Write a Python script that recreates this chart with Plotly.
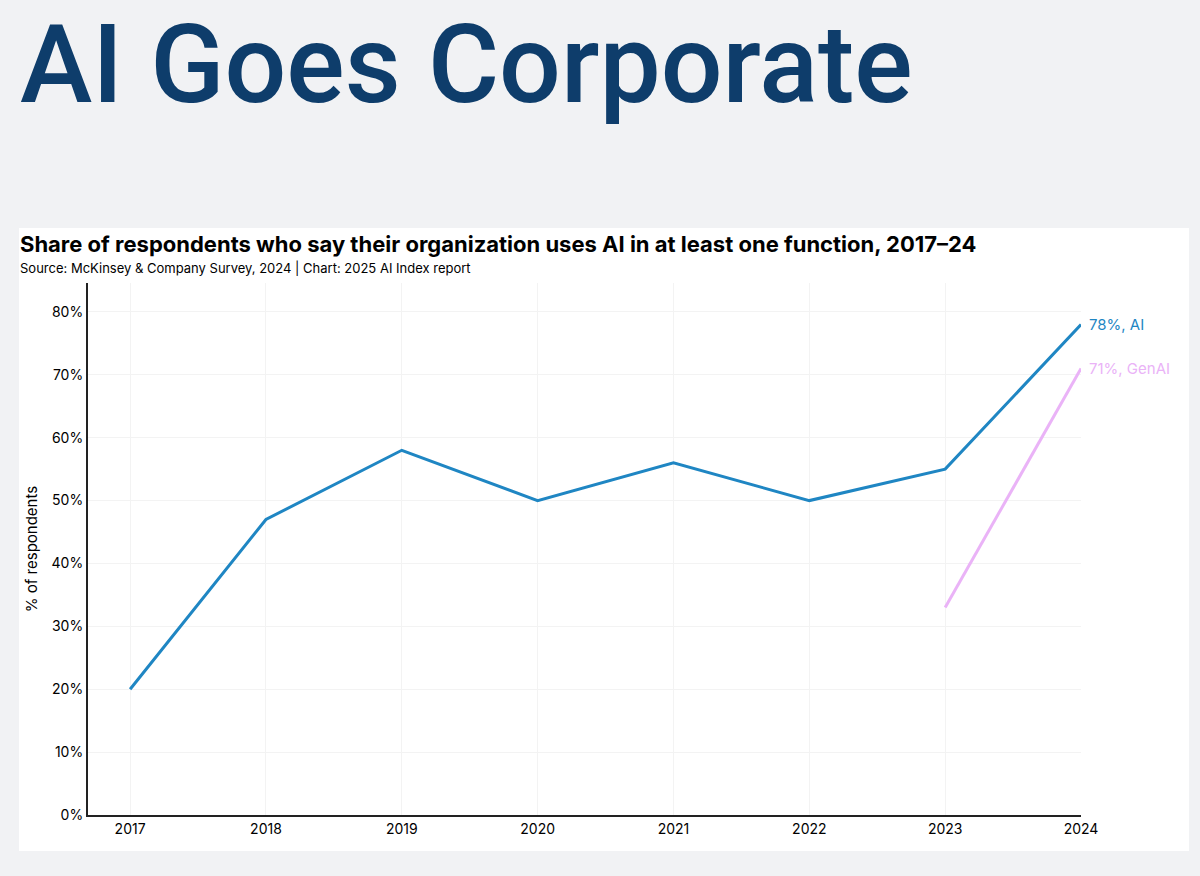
import plotly.graph_objects as go

years = [2017, 2018, 2019, 2020, 2021, 2022, 2023, 2024]
ai_share = [20, 47, 58, 50, 56, 50, 55, 78]
genai_years = [2023, 2024]
genai_share = [33, 71]
y_ticks = [0, 10, 20, 30, 40, 50, 60, 70, 80]
y_tick_labels = ["0%", "10%", "20%", "30%", "40%", "50%", "60%", "70%", "80%"]

W, H = 1200, 876
L, R, T, B = 88, 1081, 283, 815

def px(x):
    return (x - L) / (R - L)

def py(y):
    return (B - y) / (B - T)

AI_COLOR = "#1f86c3"
GEN_COLOR = "#eab3f7"
FONT = "Inter, Roboto, sans-serif"

fig = go.Figure()
fig.add_trace(go.Scatter(x=years, y=ai_share, mode="lines",
                         line=dict(color=AI_COLOR, width=3), cliponaxis=False,
                         hoverinfo="skip", showlegend=False))
fig.add_trace(go.Scatter(x=genai_years, y=genai_share, mode="lines",
                         line=dict(color=GEN_COLOR, width=3), cliponaxis=False,
                         hoverinfo="skip", showlegend=False))

fig.add_annotation(x=years[-1], y=ai_share[-1], xref="x", yref="y",
                   text=f"{ai_share[-1]}%, AI", showarrow=False,
                   xanchor="left", xshift=6, yanchor="middle",
                   font=dict(family=FONT, size=15, color=AI_COLOR))
fig.add_annotation(x=genai_years[-1], y=genai_share[-1], xref="x", yref="y",
                   text=f"{genai_share[-1]}%, GenAI", showarrow=False,
                   xanchor="left", xshift=6, yanchor="middle",
                   font=dict(family=FONT, size=15, color=GEN_COLOR))

# white panel
fig.add_shape(type="rect", xref="paper", yref="paper",
              x0=px(19), x1=px(1189), y0=py(851), y1=py(228),
              fillcolor="white", line=dict(width=0), layer="below")

# big header
fig.add_annotation(xref="paper", yref="paper", x=px(18), y=py(65),
                   text="AI Goes Corporate", showarrow=False,
                   xanchor="left", yanchor="middle",
                   font=dict(family="Roboto, Inter, sans-serif", size=109,
                             color="#0e3d6b", weight=500))
fig.add_annotation(xref="paper", yref="paper", x=px(18), y=py(244),
                   text="<b>Share of respondents who say their organization uses AI in at least one function, 2017–24</b>",
                   showarrow=False, xanchor="left", yanchor="middle",
                   font=dict(family=FONT, size=22, color="black"))
fig.add_annotation(xref="paper", yref="paper", x=px(18), y=py(268),
                   text="Source: McKinsey & Company Survey, 2024 | Chart: 2025 AI Index report",
                   showarrow=False, xanchor="left", yanchor="middle",
                   font=dict(family=FONT, size=13, color="black"))

fig.update_layout(
    width=W, height=H,
    margin=dict(l=L, r=W - R, t=T, b=H - B),
    paper_bgcolor="#f1f2f4", plot_bgcolor="white",
    font=dict(family=FONT, size=14, color="black"),
    xaxis=dict(range=[2016.69, 2024], tickvals=years, ticktext=[str(y) for y in years],
               showgrid=True, gridcolor="#f3f3f3", zeroline=False,
               showline=True, linecolor="#222", linewidth=2, ticks="",
               tickfont=dict(size=14), fixedrange=True),
    yaxis=dict(range=[0, 84.6], tickvals=y_ticks, ticktext=y_tick_labels,
               showgrid=True, gridcolor="#f3f3f3", zeroline=False,
               showline=True, linecolor="#222", linewidth=2, ticks="",
               tickfont=dict(size=14), ticklabelstandoff=0,
               title=dict(text="% of respondents", font=dict(size=15), standoff=10),
               fixedrange=True),
)

fig.write_html("out.html", config={"displayModeBar": False},
               post_script="document.body.style.margin='0';document.body.style.background='#f1f2f4';")
